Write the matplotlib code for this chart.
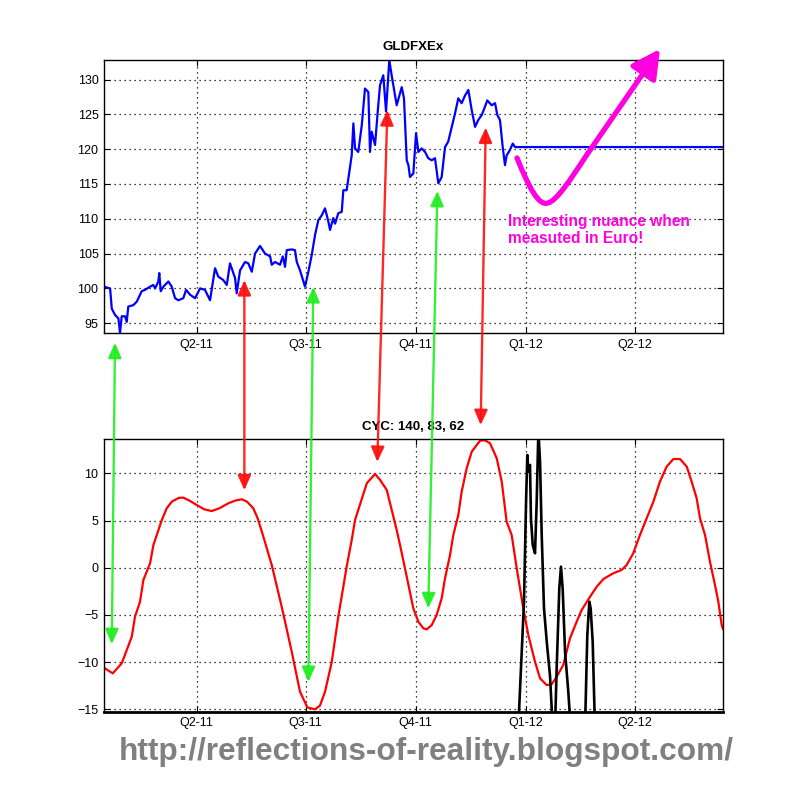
import numpy as np
import matplotlib.pyplot as plt
from matplotlib.patches import ConnectionPatch, FancyArrowPatch
from matplotlib.path import Path
from matplotlib.transforms import Affine2D

# x values are days since 2011-01-01
gld_day = [12.5, 17.6, 19.0, 21.7, 24.5, 25.9, 27.3, 30.1, 31.5, 32.8, 37.0, 39.9, 44.0, 46.8,
           51.0, 53.7, 55.2, 57.9, 58.7, 59.9, 62.1, 66.3, 69.1, 71.9, 74.6, 78.8, 81.1, 84.4,
           88.6, 92.8, 96.9, 101.1, 105.3, 108.0, 112.2, 115.1, 117.8, 122.0, 123.4, 126.2,
           130.4, 133.1, 136.0, 138.7, 142.9, 147.1, 151.3, 152.7, 155.4, 159.6, 161.9, 163.8,
           165.2, 169.4, 172.1, 173.6, 176.3, 180.5, 183.3, 186.1, 188.9, 191.6, 194.5, 197.2,
           200.0, 201.4, 204.1, 205.6, 208.3, 211.2, 212.5, 215.3, 216.7, 219.5, 220.9, 222.3,
           225.0, 227.9, 230.6, 233.4, 234.8, 236.2, 239.0, 241.7, 243.2, 245.9, 248.2, 250.9,
           252.9, 255.7, 257.1, 259.9, 261.3, 263.2, 265.5, 266.9, 268.2, 271.0, 273.3, 275.2,
           278.0, 280.8, 283.5, 286.4, 289.1, 291.9, 294.7, 297.5, 300.2, 303.1, 305.8, 308.6,
           311.4, 314.2, 317.0, 319.8, 322.6, 325.3, 328.2, 330.9, 332.8, 336.5, 339.3, 341.2,
           343.4, 345.7, 347.6, 349.0, 351.8, 354.1, 356.0, 529.8]
gld_val = [100.25, 100.0, 97.1, 96.2, 95.7, 93.6, 96.0, 96.0, 95.2, 97.4, 97.6, 98.1, 99.6, 99.8,
           100.25, 100.5, 100.0, 101.0, 102.2, 99.6, 100.25, 101.0, 100.25, 98.6, 98.3, 98.6, 99.8, 99.1,
           98.6, 100.0, 99.8, 98.3, 102.9, 101.7, 101.2, 100.5, 103.6, 101.5, 99.3, 102.6,
           103.8, 103.6, 102.4, 105.0, 106.1, 105.0, 104.6, 103.4, 103.8, 103.4, 104.6, 103.1,
           105.5, 105.6, 105.5, 103.8, 102.6, 100.25, 102.4, 104.8, 107.7, 109.8, 110.5, 111.5,
           109.6, 108.4, 110.1, 109.3, 110.8, 111.0, 114.1, 114.1, 115.8, 119.1, 123.7, 120.1,
           119.6, 123.4, 128.7, 128.2, 119.6, 122.5, 120.6, 126.3, 129.2, 130.6, 125.4, 132.8,
           130.6, 127.7, 126.3, 128.0, 128.9, 127.3, 118.4, 117.7, 116.0, 116.5, 122.3, 119.6,
           120.1, 119.6, 118.7, 118.4, 118.7, 115.1, 116.0, 120.3, 121.1, 123.2, 125.1, 127.3,
           126.6, 127.7, 128.5, 125.6, 123.2, 124.2, 124.9, 126.1, 127.0, 126.3, 126.6, 124.9,
           124.2, 120.3, 117.7, 119.1, 119.9, 120.8, 120.3, 120.3]

cyc_day = [12.5, 19.8, 27.3, 31.5, 35.7, 38.4, 42.6, 45.4, 51.0, 53.8, 60.8, 64.9, 69.1, 75.0,
           78.8, 84.0, 90.0, 96.0, 102.5, 109.0, 116.4, 122.0, 127.6, 132.0, 137.3, 141.0, 145.7,
           152.7, 161.0, 169.4, 176.3, 182.5, 188.9, 193.0, 197.2, 202.8, 208.3, 215.3, 219.5,
           222.3, 232.1, 239.0, 243.2, 248.8, 257.1, 259.9, 265.5, 271.0, 275.2, 279.4, 282.2,
           286.4, 290.5, 294.7, 297.5, 301.7, 304.4, 308.6, 311.4, 315.6, 319.8, 326.7, 330.9,
           335.1, 340.7, 344.9, 349.0, 353.2, 357.4, 362.9, 367.1, 372.7, 376.9, 382.5, 386.6,
           390.8, 396.3, 401.9, 407.5, 411.7, 418.7, 424.3, 429.8, 438.1, 445.1, 449.3, 454.8,
           460.4, 466.0, 471.6, 477.1, 482.7, 488.3, 493.9, 499.5, 503.6, 507.8, 510.6, 514.8,
           518.9, 523.1, 525.9, 528.7, 529.8]
cyc_val = [-10.6, -11.19, -10.13, -8.72, -7.31, -5.19, -3.6, -1.31, 0.47, 2.41, 5.05, 6.29, 6.99, 7.4,
           7.42, 7.1, 6.64, 6.2, 6.0, 6.3, 6.82, 7.1, 7.25, 7.0, 6.29, 5.2, 3.28,
           0.28, -4.13, -8.9, -13.14, -14.8, -15.0, -14.6, -13.14, -10.0, -5.19, 0.11, 2.93,
           5.05, 8.94, 9.93, 9.3, 8.23, 3.99, 2.4, -0.95, -4.3, -5.72, -6.42, -6.53,
           -6.07, -5.01, -3.24, -1.12, 1.35, 3.46, 5.58, 8.05, 10.53, 12.29, 13.45, 13.5,
           13.18, 11.59, 9.11, 4.87, 3.46, -0.06, -4.3, -7.13, -9.96, -11.72, -12.43, -12.35,
           -11.55, -10.3, -7.48, -5.72, -4.48, -3.07, -2.01, -1.2, -0.59, -0.24, 0.29, 1.53,
           3.46, 5.23, 6.99, 9.11, 10.7, 11.51, 11.51, 10.7, 9.11, 7.35, 5.23, 3.46,
           0.64, -1.83, -3.6, -6.07, -6.5]

blk_day = [358.7, 361.6, 363.5, 365.2, 366.3, 367.1, 368.5, 369.3, 370.8, 372.7, 374.1, 375.5,
           376.9, 378.3, 380.2, 382.5, 385.2, 387.5, 389.4, 390.8, 393.0, 394.4, 395.8, 397.8,
           400.5, 402.5, 414.5, 416.4, 418.1, 419.2, 420.9, 422.8]
blk_val = [-17.0, -8.9, -3.6, 6.99, 11.94, 10.17, 10.88, 5.23, 2.4, 1.53, 6.99, 14.5,
           11.23, 3.46, -4.3, -7.84, -11.4, -17.0, -17.0, -10.66, -2.18, 0.11, -2.18, -8.9,
           -13.1, -17.0, -17.0, -7.13, -3.6, -4.3, -7.84, -17.0]

q_ticks = [90, 181, 273, 365, 456]
q_labels = ['Q2-11', 'Q3-11', 'Q4-11', 'Q1-12', 'Q2-12']

plt.rcParams['font.family'] = ['Liberation Sans', 'DejaVu Sans']

fig = plt.figure(figsize=(7.99, 8.0), dpi=100)
ax1 = fig.add_axes([104 / 799, 1 - 333 / 800, 619 / 799, 273 / 800])
ax2 = fig.add_axes([104 / 799, 1 - 711.7 / 800, 619 / 799, 272.4 / 800])


def style(ax, ylim, yticks):
    ax.set_xlim(gld_day[0], gld_day[-1])
    ax.set_ylim(*ylim)
    ax.set_xticks(q_ticks)
    ax.set_xticklabels(q_labels)
    ax.set_yticks(yticks)
    ax.grid(True, color='black', linestyle=(0, (1, 3)), linewidth=0.9)
    ax.tick_params(direction='in', length=4, labelsize=9, pad=4, top=True, right=True)
    for s in ax.spines.values():
        s.set_linewidth(1.0)


ax1.plot(gld_day, gld_val, color='#0000FF', lw=1.6)
style(ax1, (93.6, 132.8), [95, 100, 105, 110, 115, 120, 125, 130])
ax1.set_title('GLDFXEx', fontsize=9.5, fontweight='bold', pad=7)

ax2.plot(cyc_day, cyc_val, color='#FF0000', lw=1.6)
ax2.plot(blk_day, blk_val, color='black', lw=1.9)
style(ax2, (-15.25, 13.6), [-15, -10, -5, 0, 5, 10])
ax2.spines['bottom'].set_linewidth(2.0)
ax2.set_title('CYC: 140, 83, 62', fontsize=9.5, fontweight='bold', pad=7)

# double arrows linking turns in price to cycle turns
links = [((21.7, 92.2), (19.0, -8.1), '#22EE22'),
         ((129.8, 101.2), (129.8, 8.2), '#FF1010'),
         ((187.4, 100.2), (183.3, -12.1), '#22EE22'),
         ((249.3, 125.6), (240.9, 11.2), '#FF1010'),
         ((291.1, 114.0), (283.5, -4.3), '#22EE22'),
         ((331.5, 123.1), (327.3, 15.1), '#FF1010')]
for a, b, c in links:
    con = ConnectionPatch(xyA=a, coordsA=ax1.transData, xyB=b, coordsB=ax2.transData,
                          arrowstyle='<|-|>,head_length=9,head_width=4', mutation_scale=1,
                          color=c, lw=1.7, shrinkA=0, shrinkB=0, alpha=0.9, zorder=10)
    fig.add_artist(con)

# magenta sketch arrow, in image pixel coordinates
px = Affine2D().scale(1 / 799, -1 / 800).translate(0, 1) + fig.transFigure
verts = [(517, 158), (530, 190), (539, 206), (548, 203), (557, 200), (569, 182), (586, 156), (660, 49)]
codes = [Path.MOVETO, Path.CURVE4, Path.CURVE4, Path.CURVE4, Path.CURVE4, Path.CURVE4, Path.CURVE4,
         Path.LINETO]
arr = FancyArrowPatch(path=Path(verts, codes), transform=px,
                      arrowstyle='-|>,head_length=17,head_width=9', mutation_scale=1,
                      color='#FF00E0', lw=3.8, zorder=11)
fig.add_artist(arr)

fig.text(508 / 799, 1 - 230 / 800, 'Interesting nuance when\nmeasuted in Euro!', color='#FF00E0',
         fontsize=11.2, fontweight='bold', ha='left', va='center', linespacing=1.2)

fig.text(426 / 799, 1 - 752 / 800, 'http://reflections-of-reality.blogspot.com/', color='#808080',
         fontsize=22.8, fontweight='bold', ha='center', va='center')

fig.savefig('out.png', dpi=100)
